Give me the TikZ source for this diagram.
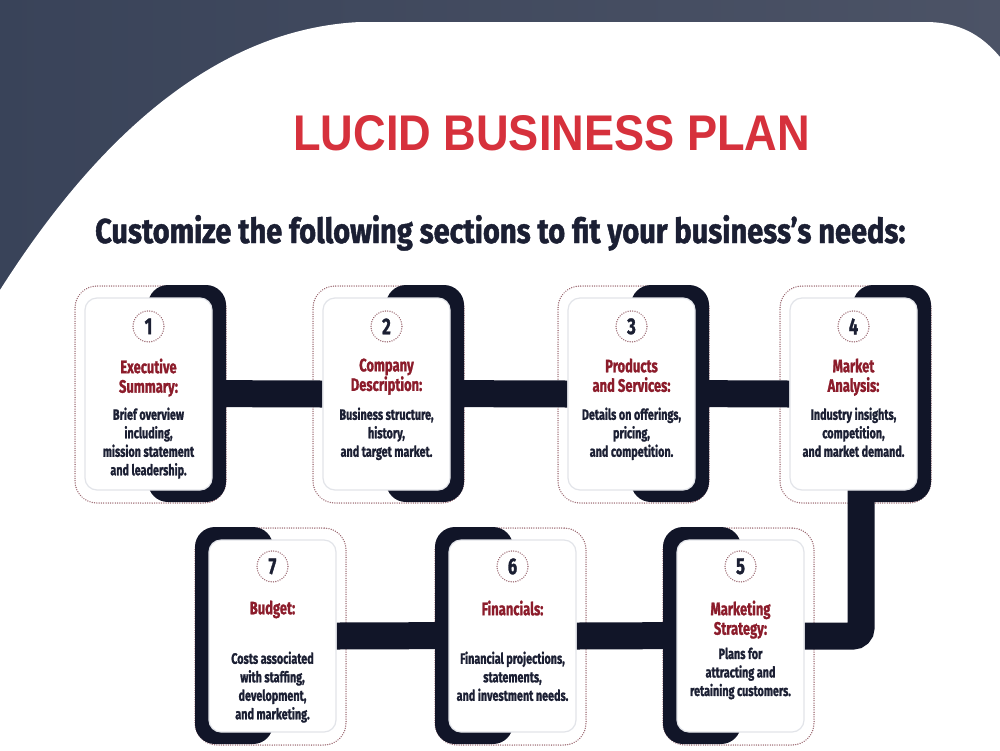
\documentclass[tikz,border=0pt]{standalone}
\usepackage{fontspec}
\usepackage{graphicx}
\setmainfont{Fira Sans}
\newfontfamily\condf[FakeStretch=0.72, FakeBold=1.2]{Fira Sans}
\newfontfamily\titlef{Liberation Sans}
\usetikzlibrary{calc}
\definecolor{bgA}{HTML}{394359}
\definecolor{bgB}{HTML}{4C5366}
\definecolor{navy}{HTML}{111528}
\definecolor{navytext}{HTML}{1B1F33}
\definecolor{cardred}{HTML}{8C1C2B}
\definecolor{titlered}{HTML}{D6313C}
\definecolor{dotc}{HTML}{9C6A72}
\definecolor{cardedge}{HTML}{E2E4E9}
\pgfdeclarelayer{bg}
\pgfdeclarelayer{conn}
\pgfsetlayers{bg,conn,main}
\tikzset{
  dotbox/.style={draw=dotc, line width=1.5pt, dash pattern=on 0.01pt off 2.3pt, line cap=round,
    rounded corners=22pt, minimum width=151pt, minimum height=217pt, inner sep=0pt},
  brk/.style={fill=navy, rounded corners=20pt, minimum width=78pt, minimum height=217pt, inner sep=0pt},
  wcard/.style={fill=white, draw=cardedge, line width=1.2pt, rounded corners=12pt,
    minimum width=127pt, minimum height=192pt, inner sep=0pt},
  conn/.style={draw=navy, line width=27pt},
  numc/.style={circle, draw=dotc, line width=1.5pt, dash pattern=on 0.01pt off 2.3pt, line cap=round,
    minimum size=31pt, inner sep=0pt, text=navytext, font=\condf\bfseries\fontsize{23}{23}\selectfont},
  ttl/.style={align=center, inner sep=0pt, anchor=north, text=cardred,
    font=\condf\bfseries\fontsize{18}{19.5}\selectfont},
  body/.style={align=center, inner sep=0pt, anchor=north, text=navytext,
    font=\condf\bfseries\fontsize{15}{18.5}\selectfont},
  bigtitle/.style={anchor=base west, inner sep=0pt, font=\titlef\bfseries},
}
\begin{document}
\begin{tikzpicture}[x=1pt,y=-1pt]
\useasboundingbox (0,0) rectangle (1000,750);
\begin{pgfonlayer}{bg}
  \shade[left color=bgA, right color=bgB] (-5,-5) rectangle (1005,755);
  \fill[white] (0,290) .. controls (70,180) and (190,30) .. (360,22) -- (925,22)
     .. controls (968,22) and (990,42) .. (1010,70) -- (1010,760) -- (-10,760) -- (-10,292) -- cycle;
  % dotted outlines
  \node[dotbox] (d1) at (150.5,394.5) {};
  \node[dotbox] (d2) at (388.5,394.5) {};
  \node[dotbox] (d3) at (633.5,394.5) {};
  \node[dotbox] (d4) at (855.5,394.5) {};
  \node[dotbox] (d5) at (738.5,636.5) {};
  \node[dotbox] (d6) at (510.5,636.5) {};
  \node[dotbox] (d7) at (270.5,636.5) {};
\end{pgfonlayer}

% title
\node[bigtitle, text=titlered] (title) at (293,150) {\resizebox{517pt}{35pt}{LUCID BUSINESS PLAN}};

% subtitle
\node[anchor=base west, inner sep=0pt, text=navytext, font=\condf\bfseries] (sub) at (95,243)
  {\resizebox{810pt}{28pt}{Customize the following sections to fit your business’s needs:}};

% brackets
\node[brk] (b1) at (187,393.5) {};
\node[brk] (b2) at (425,393.5) {};
\node[brk] (b3) at (670,393.5) {};
\node[brk] (b4) at (892,393.5) {};
\node[brk] (b5) at (702,635.5) {};
\node[brk] (b6) at (474,635.5) {};
\node[brk] (b7) at (234,635.5) {};

% white cards
\node[wcard] (c1) at (148.5,394) {};
\node[wcard] (c2) at (386.5,394) {};
\node[wcard] (c3) at (631.5,394) {};
\node[wcard] (c4) at (853.5,394) {};
\node[wcard] (c5) at (740.5,636) {};
\node[wcard] (c6) at (512.5,636) {};
\node[wcard] (c7) at (272.5,636) {};

% connectors
\begin{pgfonlayer}{conn}
  \draw[conn] (b1.center) -- (c2.west);
  \draw[conn] (b2.center) -- (c3.west);
  \draw[conn] (b3.center) -- (c4.west);
  \draw[conn, rounded corners=8pt] ($(c4.south)+(7.5,-5)$) |- (c5.east);
  \draw[conn] (c6.east) -- (b5.center);
  \draw[conn] (c7.east) -- (b6.center);
\end{pgfonlayer}

% numbers
\foreach \i in {1,...,4}{
  \node[numc] (n\i) at ($(c\i.north)+(0,29)$) {\i};
}
\foreach \i in {5,6,7}{
  \node[numc] (n\i) at ($(c\i.north)+(0,27)$) {\i};
}

% titles
\node[ttl] (t1) at ($(c1.north)+(0,61)$) {Executive\\Summary:};
\node[ttl] (t2) at ($(c2.north)+(0,61)$) {Company\\Description:};
\node[ttl] (t3) at ($(c3.north)+(0,61)$) {Products\\and Services:};
\node[ttl] (t4) at ($(c4.north)+(0,61)$) {Market\\Analysis:};
\node[ttl] (t5) at ($(c5.north)+(0,61)$) {Marketing\\Strategy:};
\node[ttl] (t6) at ($(c6.north)+(0,61)$) {Financials:};
\node[ttl] (t7) at ($(c7.north)+(0,61)$) {Budget:};

% bodies
\node[body] (x1) at ($(c1.north)+(0,110)$) {Brief overview\\including,\\mission statement\\and leadership.};
\node[body] (x2) at ($(c2.north)+(0,110)$) {Business structure,\\history,\\and target market.};
\node[body] (x3) at ($(c3.north)+(0,110)$) {Details on offerings,\\pricing,\\and competition.};
\node[body] (x4) at ($(c4.north)+(0,110)$) {Industry insights,\\competition,\\and market demand.};
\node[body] (x5) at ($(c5.north)+(0,108)$) {Plans for\\attracting and\\retaining customers.};
\node[body] (x6) at ($(c6.north)+(0,112)$) {Financial projections,\\statements,\\and investment needs.};
\node[body] (x7) at ($(c7.north)+(0,112)$) {Costs associated\\with staffing,\\development,\\and marketing.};
\end{tikzpicture}
\end{document}
